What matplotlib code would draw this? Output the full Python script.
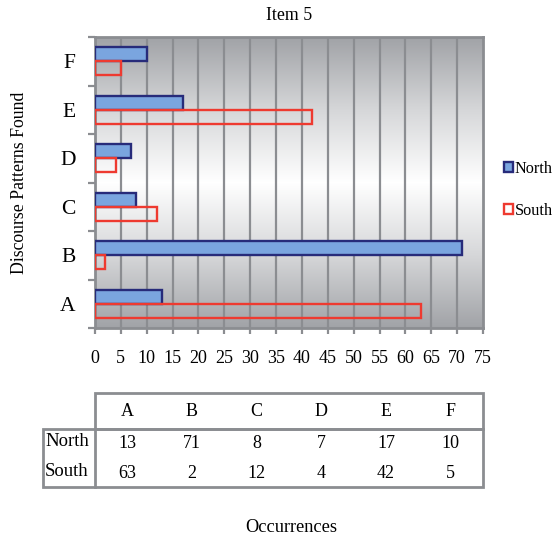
import numpy as np
import matplotlib
matplotlib.use("Agg")
import matplotlib.pyplot as plt
from matplotlib.colors import LinearSegmentedColormap
from matplotlib.patches import Rectangle

plt.rcParams['font.family'] = ['Liberation Serif', 'DejaVu Serif']
plt.rcParams['image.composite_image'] = False

categories = ['A', 'B', 'C', 'D', 'E', 'F']
north = [13, 71, 8, 7, 17, 10]
south = [63, 2, 12, 4, 42, 5]
series_names = ['North', 'South']
xticks = list(range(0, 80, 5))
title = 'Item 5'
ylabel = 'Discourse Patterns Found'
xlabel = 'Occurrences'

W, H = 559, 540
fig = plt.figure(figsize=(W / 100, H / 100), dpi=100)
# axes in pixel coordinates: left 95, right 483, top 37, bottom 328
L, R, T, B = 95, 483, 37, 328
rect = [L / W, 1 - B / H, (R - L) / W, (B - T) / H]

# background gradient axes (grey at top/bottom, white in the middle)
bgax = fig.add_axes(rect, zorder=0)
bgax.axis('off')
bg_cmap = LinearSegmentedColormap.from_list('bg', ['#ffffff', '#d6d7d9', '#a1a3a7'])
yy = np.linspace(-1, 1, 400)[:, None]
grad = np.abs(yy) * np.ones((1, 10))
bgax.imshow(grad, extent=(0, 1, 0, 1), aspect='auto', cmap=bg_cmap,
            vmin=0, vmax=1, origin='upper', interpolation='bilinear')
bgax.set_xlim(0, 1)
bgax.set_ylim(0, 1)

ax = fig.add_axes(rect, zorder=1)
ax.patch.set_alpha(0)

n = len(categories)
y = np.arange(n)
h = 0.29

# grid lines
for xv in xticks[1:-1]:
    ax.axvline(xv, color='#8b8d91', lw=1.6, zorder=1)

nb = ax.barh(y + h / 2, north, height=h, color='#7aa5df', edgecolor='#272b7a',
             lw=1.7, zorder=3, label=series_names[0])
sb = ax.barh(y - h / 2, south, height=h, color='none', edgecolor='#ee3a30',
             lw=1.7, zorder=3, label=series_names[1])

bar_cmap = LinearSegmentedColormap.from_list('bar', ['#a4c8f0', '#7aa5df', '#4c72c2'])
bgrad = np.linspace(0, 1, 50)[:, None] * np.ones((1, 10))
for p in nb.patches:
    im = ax.imshow(bgrad, extent=(p.get_x(), p.get_x() + p.get_width(),
                                  p.get_y(), p.get_y() + p.get_height()),
                   aspect='auto', cmap=bar_cmap, origin='upper', zorder=2.5,
                   interpolation='bilinear')
    im.set_clip_path(p)

ax.set_xlim(0, 75)
ax.set_ylim(-0.5, n - 0.5)
ax.set_xticks(xticks)
ax.set_xticklabels([str(v) for v in xticks], fontsize=13)
ax.set_yticks(y)
ax.set_yticklabels(categories, fontsize=15.5)
ax.set_yticks(np.arange(-0.5, n, 1), minor=True)
ax.tick_params(axis='y', which='major', length=0, pad=14)
ax.tick_params(axis='y', which='minor', length=5, width=1.6, color='#8b8d91')
ax.tick_params(axis='x', which='major', length=4, width=1.6, color='#8b8d91', pad=12)
for s in ax.spines.values():
    s.set_color('#8b8d91')
    s.set_linewidth(2)

fig.text(289 / W, 1 - 15 / H, title, ha='center', va='center', fontsize=12.8)
fig.text(20 / W, 1 - 183 / H, ylabel, ha='center', va='center', rotation=90, fontsize=12.8)
fig.text(291 / W, 1 - 527 / H, xlabel, ha='center', va='center', fontsize=13.2)

leg = fig.legend(handles=[nb, sb], loc='center left',
                 bbox_to_anchor=(489 / W, 1 - 190 / H), frameon=False,
                 fontsize=11.7, handlelength=0.55, handleheight=0.55,
                 handletextpad=0.12, labelspacing=1.6)

# data table drawn in pixel coordinates
tax = fig.add_axes([0, 0, 1, 1], zorder=2)
tax.set_xlim(0, W)
tax.set_ylim(H, 0)
tax.axis('off')
tc = '#8b8d91'
tl = 2
hdr_top, hdr_bot, body_bot, rl = 393, 429, 487, 43
tax.add_patch(Rectangle((L, hdr_top), R - L, hdr_bot - hdr_top, fill=False, ec=tc, lw=tl))
tax.add_patch(Rectangle((rl, hdr_bot), R - rl, body_bot - hdr_bot, fill=False, ec=tc, lw=tl))
tax.plot([L, L], [hdr_bot, body_bot], color=tc, lw=tl)
cw = (R - L) / n
for i, c in enumerate(categories):
    cx = L + cw * (i + 0.5)
    tax.text(cx, 412, c, ha='center', va='center', fontsize=13)
    tax.text(cx, 443, str(north[i]), ha='center', va='center', fontsize=13)
    tax.text(cx, 473, str(south[i]), ha='center', va='center', fontsize=13)
tax.text(45, 442, series_names[0], ha='left', va='center', fontsize=13.5)
tax.text(45, 472, series_names[1], ha='left', va='center', fontsize=13.5)

fig.savefig('out.png', dpi=100)
